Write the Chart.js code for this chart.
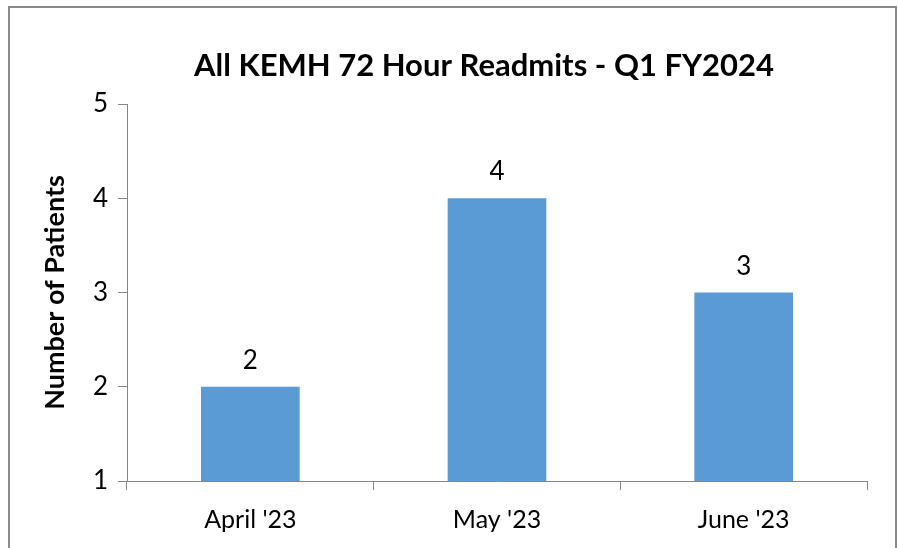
<!DOCTYPE html>
<html>
<head>
<meta charset="utf-8">
<script src="https://cdn.jsdelivr.net/npm/chart.js@4/dist/chart.umd.min.js"></script>
<style>
  html, body { margin: 0; padding: 0; background: #fff; overflow: hidden; }
  #wrap { position: relative; width: 898px; height: 548px; }
  #frame { position: absolute; left: 8px; top: 6px; width: 889px; height: 600px; border: 2px solid #8a8a8a; box-sizing: border-box; pointer-events: none; }
  canvas { position: absolute; left: 0; top: 0; }
</style>
</head>
<body>
<div id="wrap">
  <canvas id="c" width="898" height="548"></canvas>
  <div id="frame"></div>
</div>
<script>
const chartTitle = "All KEMH 72 Hour Readmits - Q1 FY2024";
const categories = ["April '23", "May '23", "June '23"];
const patients = [2, 4, 3];
const yTitle = "Number of Patients";
const yMin = 1, yMax = 5, yStep = 1;

const FONT = "Lato, 'Open Sans', sans-serif";
const axisGray = "#868686";

const titlePlugin = {
  id: 'customTitle',
  afterDraw(chart) {
    const ctx = chart.ctx;
    ctx.save();
    ctx.font = "bold 31px " + FONT;
    ctx.fillStyle = "#000";
    ctx.textAlign = "center";
    ctx.textBaseline = "middle";
    ctx.fillText(chartTitle, 484, 66);
    ctx.restore();
  }
};

const labelPlugin = {
  id: 'valueLabels',
  afterDatasetsDraw(chart) {
    const ctx = chart.ctx;
    const meta = chart.getDatasetMeta(0);
    ctx.save();
    ctx.font = "26px " + FONT;
    ctx.fillStyle = "#000";
    ctx.textAlign = "center";
    ctx.textBaseline = "alphabetic";
    meta.data.forEach((bar, i) => {
      ctx.fillText(String(patients[i]), bar.x, bar.y - 18);
    });
    ctx.restore();
  }
};

new Chart(document.getElementById('c'), {
  type: 'bar',
  data: {
    labels: categories,
    datasets: [{
      data: patients,
      backgroundColor: '#5B9BD5',
      borderWidth: 0,
      barPercentage: 0.4,
      categoryPercentage: 1.0
    }]
  },
  options: {
    responsive: false,
    animation: false,
    devicePixelRatio: 1,
    layout: { padding: { left: 10, right: 31, top: 104, bottom: 0 } },
    plugins: {
      legend: { display: false },
      title: { display: false },
      tooltip: { enabled: false }
    },
    scales: {
      x: {
        afterFit(scale) { scale.height = 67; },
        grid: {
          display: true,
          drawOnChartArea: false,
          drawTicks: true,
          tickLength: 9,
          color: axisGray,
          offset: true
        },
        border: { display: true, color: axisGray, width: 1 },
        ticks: {
          color: '#000',
          font: { family: FONT, size: 25 },
          padding: 15
        }
      },
      y: {
        min: yMin,
        max: yMax,
        afterFit(scale) { scale.width = 117; },
        grid: {
          display: true,
          drawOnChartArea: false,
          drawTicks: true,
          tickLength: 9,
          color: axisGray
        },
        border: { display: true, color: axisGray, width: 1 },
        ticks: {
          stepSize: yStep,
          color: '#000',
          font: { family: FONT, size: 26 },
          padding: 10
        },
        title: {
          display: true,
          text: yTitle,
          color: '#000',
          font: { family: FONT, size: 27, weight: 'bold' },
          padding: { top: 29, bottom: 0 }
        }
      }
    }
  },
  plugins: [titlePlugin, labelPlugin]
});
</script>
</body>
</html>
